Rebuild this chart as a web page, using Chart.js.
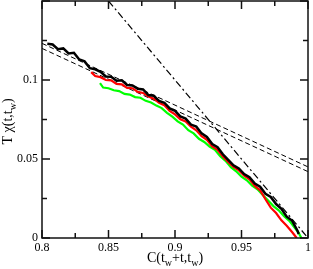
<!DOCTYPE html>
<html>
<head>
<meta charset="utf-8">
<script src="https://cdn.jsdelivr.net/npm/chart.js@4"></script>
<style>
  html,body{margin:0;padding:0;background:#fff;}
</style>
</head>
<body>
<canvas id="chart" width="313" height="269"></canvas>
<script>
// data
const blackC = [0.804,0.808,0.812,0.816,0.820,0.824,0.828,0.832,0.836,0.840,0.844,0.848,0.852,0.856,0.860,0.864,0.868,0.872,0.876,0.880,0.884,0.888,0.892,0.896,0.900,0.904,0.908,0.912,0.916,0.920,0.924,0.928,0.932,0.936,0.940,0.944,0.948,0.952,0.956,0.960,0.964,0.968,0.972,0.976,0.980,0.984,0.988,0.992,0.993];
const blackChi = [0.1230,0.1225,0.1195,0.1200,0.1168,0.1172,0.1130,0.1118,0.1075,0.1068,0.1052,0.1022,0.1020,0.0995,0.0998,0.0968,0.0965,0.0945,0.0940,0.0905,0.0900,0.0868,0.0856,0.0820,0.0805,0.0770,0.0756,0.0718,0.0705,0.0662,0.0640,0.0595,0.0575,0.0530,0.0495,0.0460,0.0440,0.0405,0.0385,0.0345,0.0325,0.0280,0.0260,0.0215,0.0185,0.0135,0.0110,0.0048,0.0025];

const redC = [0.837,0.840,0.844,0.848,0.852,0.856,0.860,0.864,0.868,0.872,0.876,0.880,0.884,0.888,0.892,0.896,0.900,0.904,0.908,0.912,0.916,0.920,0.924,0.928,0.932,0.936,0.940,0.944,0.948,0.952,0.956,0.960,0.964,0.968,0.972,0.976,0.980,0.984,0.988,0.9915];
const redChi = [0.1050,0.1025,0.1018,0.1000,0.0998,0.0975,0.0972,0.0950,0.0948,0.0925,0.0918,0.0895,0.0882,0.0855,0.0840,0.0805,0.0782,0.0752,0.0738,0.0705,0.0682,0.0645,0.0622,0.0580,0.0558,0.0515,0.0482,0.0450,0.0428,0.0395,0.0372,0.0330,0.0302,0.0245,0.0192,0.0158,0.0112,0.0078,0.0038,0.0];

const greenC = [0.8436,0.846,0.850,0.854,0.858,0.862,0.866,0.870,0.874,0.878,0.882,0.886,0.890,0.894,0.898,0.902,0.906,0.910,0.914,0.918,0.922,0.926,0.930,0.934,0.938,0.942,0.946,0.950,0.954,0.958,0.962,0.966,0.970,0.974,0.978,0.982,0.986,0.990,0.993,0.995];
const greenChi = [0.0980,0.0952,0.0948,0.0935,0.0930,0.0912,0.0908,0.0892,0.0888,0.0868,0.0858,0.0838,0.0822,0.0792,0.0768,0.0738,0.0718,0.0682,0.0662,0.0628,0.0608,0.0578,0.0558,0.0518,0.0488,0.0448,0.0422,0.0388,0.0365,0.0332,0.0308,0.0272,0.0238,0.0202,0.0175,0.0138,0.0108,0.0065,0.0032,0.0];

// straight reference lines
const fitUpperC = [0.8, 1.0];
const fitUpperChi = [0.1232, 0.0450];
const fitLowerC = [0.8, 1.0];
const fitLowerChi = [0.1200, 0.0420];
const fdtC = [0.85, 1.0];
const fdtChi = [0.15, 0.0];

const xMajorTicks = [0.8, 0.85, 0.9, 0.95, 1];
const xMinorTicks = [0.825, 0.875, 0.925, 0.975];
const xTickLabels = ['0.8', '0.85', '0.9', '0.95', '1'];
const yMajorTicks = [0, 0.05, 0.1, 0.15];
const yMinorTicks = [0.025, 0.075, 0.125];
const yLabelTicks = [0, 0.05, 0.1];
const yTickLabels = ['0', '0.05', '0.1'];

const SERIF = "'Liberation Serif', 'DejaVu Serif', serif";

function pts(cs, vs){ return cs.map((c,i)=>({x:c, y:vs[i]})); }

// inward ticks and the box round the plot
const framePlugin = {
  id: 'frame',
  afterDatasetsDraw(chart){
    const {ctx, chartArea: a, scales: {x, y}} = chart;
    ctx.save();
    ctx.strokeStyle = '#111';
    ctx.lineWidth = 1.5;
    ctx.strokeRect(a.left, a.top, a.right - a.left, a.bottom - a.top);
    const seg = (x1,y1,x2,y2)=>{ ctx.beginPath(); ctx.moveTo(x1,y1); ctx.lineTo(x2,y2); ctx.stroke(); };
    const xt = (vals, len)=> vals.forEach(v=>{
      const p = x.getPixelForValue(v);
      seg(p, a.bottom, p, a.bottom - len);
      seg(p, a.top, p, a.top + len);
    });
    const yt = (vals, len)=> vals.forEach(v=>{
      const p = y.getPixelForValue(v);
      seg(a.left, p, a.left + len, p);
      seg(a.right, p, a.right - len, p);
    });
    xt(xMajorTicks, 8); xt(xMinorTicks, 5);
    yt(yMajorTicks, 8); yt(yMinorTicks, 5);
    ctx.restore();
  }
};

// axis titles with subscripts
function drawParts(ctx, parts, cx, baseY){
  let total = 0;
  parts.forEach(p=>{ ctx.font = p[1] + 'px ' + SERIF; total += ctx.measureText(p[0]).width; });
  let px = cx - total/2;
  parts.forEach(p=>{
    ctx.font = p[1] + 'px ' + SERIF;
    ctx.fillText(p[0], px, baseY + p[2]);
    px += ctx.measureText(p[0]).width;
  });
}
const titlePlugin = {
  id: 'titles',
  afterDraw(chart){
    const {ctx, chartArea: a} = chart;
    ctx.save();
    ctx.fillStyle = '#000';
    ctx.textBaseline = 'alphabetic';
    ctx.textAlign = 'left';
    drawParts(ctx, [['C(t',14,0],['w',10,4],['+t,t',14,0],['w',10,4],[')',14,0]], (a.left + a.right)/2, 262);
    ctx.translate(12, (a.top + a.bottom)/2 + 2);
    ctx.rotate(-Math.PI/2);
    drawParts(ctx, [['T χ(t,t',14,0],['w',10,4],[')',14,0]], 0, 0);
    ctx.restore();
  }
};

new Chart(document.getElementById('chart').getContext('2d'), {
  type: 'line',
  data: {
    datasets: [
      {data: pts(blackC, blackChi), borderColor: '#000', borderWidth: 2.5},
      {data: pts(redC, redChi), borderColor: '#ff0000', borderWidth: 2.2},
      {data: pts(greenC, greenChi), borderColor: '#00ff00', borderWidth: 2.2},
      {data: pts(fitUpperC, fitUpperChi), borderColor: '#000', borderWidth: 1, borderDash: [5,3]},
      {data: pts(fitLowerC, fitLowerChi), borderColor: '#000', borderWidth: 1, borderDash: [5,3]},
      {data: pts(fdtC, fdtChi), borderColor: '#000', borderWidth: 1.2, borderDash: [7,3,2,3]}
    ]
  },
  options: {
    responsive: false,
    devicePixelRatio: 1,
    animation: false,
    layout: {padding: {top: 1, right: 5, left: 0, bottom: 0}},
    elements: {point: {radius: 0}, line: {tension: 0, fill: false}},
    plugins: {legend: {display: false}, tooltip: {enabled: false}},
    scales: {
      x: {
        type: 'linear', min: 0.8, max: 1,
        afterBuildTicks(s){ s.ticks = xMajorTicks.map(v=>({value: v})); },
        afterFit(s){ s.height = 31; s.paddingLeft = 0; s.paddingRight = 0; },
        grid: {display: false, drawTicks: false},
        border: {display: false},
        ticks: {autoSkip: false, maxRotation: 0, padding: 3, color: '#000',
          font: {family: SERIF, size: 12},
          callback: (v, i)=> xTickLabels[i]}
      },
      y: {
        type: 'linear', min: 0, max: 0.15,
        afterBuildTicks(s){ s.ticks = yLabelTicks.map(v=>({value: v})); },
        afterFit(s){ s.width = 42; s.paddingTop = 0; s.paddingBottom = 0; },
        grid: {display: false, drawTicks: false},
        border: {display: false},
        ticks: {autoSkip: false, padding: 4, color: '#000',
          font: {family: SERIF, size: 12},
          callback: (v, i)=> yTickLabels[i]}
      }
    }
  },
  plugins: [framePlugin, titlePlugin]
});
</script>
</body>
</html>
